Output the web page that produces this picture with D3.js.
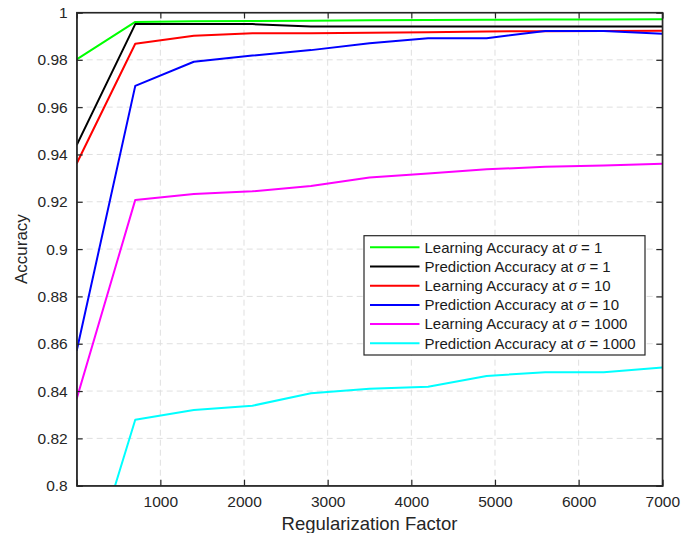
<!DOCTYPE html>
<html><head><meta charset="utf-8">
<script src="https://cdn.jsdelivr.net/npm/d3@7"></script>
<style>body{margin:0;background:#fff}svg{display:block}</style>
</head><body>
<script>
const factors = [0, 700, 1400, 2100, 2800, 3500, 4200, 4900, 5600, 6300, 7000];
const learnSigma1   = [0.9802, 0.9960, 0.9963, 0.9964, 0.9965, 0.9967, 0.9968, 0.9969, 0.9970, 0.9970, 0.9971];
const predSigma1    = [0.9440, 0.9951, 0.9951, 0.9951, 0.9941, 0.9941, 0.9941, 0.9941, 0.9941, 0.9941, 0.9941];
const learnSigma10  = [0.9362, 0.9868, 0.9902, 0.9912, 0.9912, 0.9914, 0.9917, 0.9920, 0.9921, 0.9922, 0.9923];
const predSigma10   = [0.8570, 0.9690, 0.9792, 0.9818, 0.9841, 0.9870, 0.9891, 0.9891, 0.9922, 0.9922, 0.9910];
const learnSigma1000= [0.8368, 0.9208, 0.9233, 0.9244, 0.9267, 0.9303, 0.9320, 0.9337, 0.9348, 0.9353, 0.9361];
const predSigma1000 = [0.7470, 0.8279, 0.8320, 0.8338, 0.8391, 0.8410, 0.8418, 0.8464, 0.8479, 0.8479, 0.8500];
const seriesNames = ["Learning Accuracy at ", "Prediction Accuracy at ", "Learning Accuracy at ", "Prediction Accuracy at ", "Learning Accuracy at ", "Prediction Accuracy at "];
const sigmaValues = ["1", "1", "10", "10", "1000", "1000"];
const seriesColors = ["#00ff00", "#000000", "#ff0000", "#0000ff", "#ff00ff", "#00ffff"];
const xTicks = [1000, 2000, 3000, 4000, 5000, 6000, 7000];
const yTicks = [0.8, 0.82, 0.84, 0.86, 0.88, 0.9, 0.92, 0.94, 0.96, 0.98, 1];
const xTitle = "Regularization Factor";
const yTitle = "Accuracy";

const allSeries = [learnSigma1, predSigma1, learnSigma10, predSigma10, learnSigma1000, predSigma1000];

const W = 693, H = 533;
const m = {left: 76.7, right: 693 - 662.3, top: 12.5, bottom: 533 - 485.7};
const svg = d3.select("body").append("svg").attr("width", W).attr("height", H);
const x = d3.scaleLinear().domain([0, 7000]).range([m.left, W - m.right]);
const y = d3.scaleLinear().domain([0.8, 1]).range([H - m.bottom, m.top]);
const font = "'Liberation Sans', Arial, Helvetica, sans-serif";
const axisColor = "#262626";

// grid
const grid = svg.append("g");
grid.selectAll("line.gx").data(xTicks.filter(d => d < 7000)).join("line")
  .attr("x1", d => x(d)).attr("x2", d => x(d)).attr("y1", y(0.8)).attr("y2", y(1))
  .attr("stroke", "#dfdfdf").attr("stroke-width", 1).attr("stroke-dasharray", "6,4");
grid.selectAll("line.gy").data(yTicks.filter(d => d > 0.8 && d < 1)).join("line")
  .attr("y1", d => y(d)).attr("y2", d => y(d)).attr("x1", x(0)).attr("x2", x(7000))
  .attr("stroke", "#dfdfdf").attr("stroke-width", 1).attr("stroke-dasharray", "6,4");

// clip
svg.append("clipPath").attr("id", "clip").append("rect")
  .attr("x", x(0)).attr("y", y(1)).attr("width", x(7000) - x(0)).attr("height", y(0.8) - y(1));

const line = d3.line().x((d, i) => x(factors[i])).y(d => y(d));
svg.append("g").attr("clip-path", "url(#clip)")
  .selectAll("path").data(allSeries).join("path")
  .attr("d", d => line(d)).attr("fill", "none")
  .attr("stroke", (d, i) => seriesColors[i]).attr("stroke-width", 2)
  .attr("stroke-linejoin", "round");

// axes (MATLAB box style, ticks inward)
const tickLen = 6;
const axB = svg.append("g").attr("transform", `translate(0,${y(0.8)})`)
  .call(d3.axisBottom(x).tickValues(xTicks).tickSize(-tickLen).tickPadding(10.3).tickFormat(d3.format("d")));
const axT = svg.append("g").attr("transform", `translate(0,${y(1)})`)
  .call(d3.axisTop(x).tickValues(xTicks).tickSize(-tickLen).tickFormat(""));
const axL = svg.append("g").attr("transform", `translate(${x(0)},0)`)
  .call(d3.axisLeft(y).tickValues(yTicks).tickSize(-tickLen).tickPadding(9).tickFormat(d => d3.format("")(+d.toFixed(2))));
const axR = svg.append("g").attr("transform", `translate(${x(7000)},0)`)
  .call(d3.axisRight(y).tickValues(yTicks).tickSize(-tickLen).tickFormat(""));
[axB, axT, axL, axR].forEach(a => {
  a.select(".domain").attr("stroke", axisColor).attr("stroke-width", 1.2);
  a.selectAll(".tick line").attr("stroke", axisColor).attr("stroke-width", 1.2);
  a.selectAll("text").attr("fill", axisColor).attr("font-family", font).attr("font-size", 15.5);
});
svg.append("rect").attr("x", x(0)).attr("y", y(1)).attr("width", x(7000) - x(0)).attr("height", y(0.8) - y(1))
  .attr("fill", "none").attr("stroke", axisColor).attr("stroke-width", 1.2);

// titles
svg.append("text").attr("x", (x(0) + x(7000)) / 2).attr("y", 529.5).attr("text-anchor", "middle")
  .attr("font-family", font).attr("font-size", 18.5).attr("fill", axisColor).text(xTitle);
svg.append("text").attr("transform", `translate(26.5,${(y(0.8) + y(1)) / 2}) rotate(-90)`).attr("text-anchor", "middle")
  .attr("font-family", font).attr("font-size", 17).attr("fill", axisColor).text(yTitle);

// legend
const lg = svg.append("g");
lg.append("rect").attr("x", 364).attr("y", 235.7).attr("width", 281).attr("height", 119.3)
  .attr("fill", "#fff").attr("stroke", axisColor).attr("stroke-width", 1.2);
const rowY = i => 247.3 + i * 19.2;
seriesNames.forEach((name, i) => {
  lg.append("line").attr("x1", 370).attr("x2", 419.5).attr("y1", rowY(i)).attr("y2", rowY(i))
    .attr("stroke", seriesColors[i]).attr("stroke-width", 2);
  const t = lg.append("text").attr("x", 424.5).attr("y", rowY(i) + 5.2)
    .attr("font-family", font).attr("font-size", 15).attr("fill", "#1a1a1a");
  t.append("tspan").text(name);
  t.append("tspan").attr("font-family", "'Liberation Serif', 'Times New Roman', serif").attr("font-style", "italic").attr("font-size", 16.5).text("σ");
  t.append("tspan").text(" = " + sigmaValues[i]);
});
</script>
</body></html>
